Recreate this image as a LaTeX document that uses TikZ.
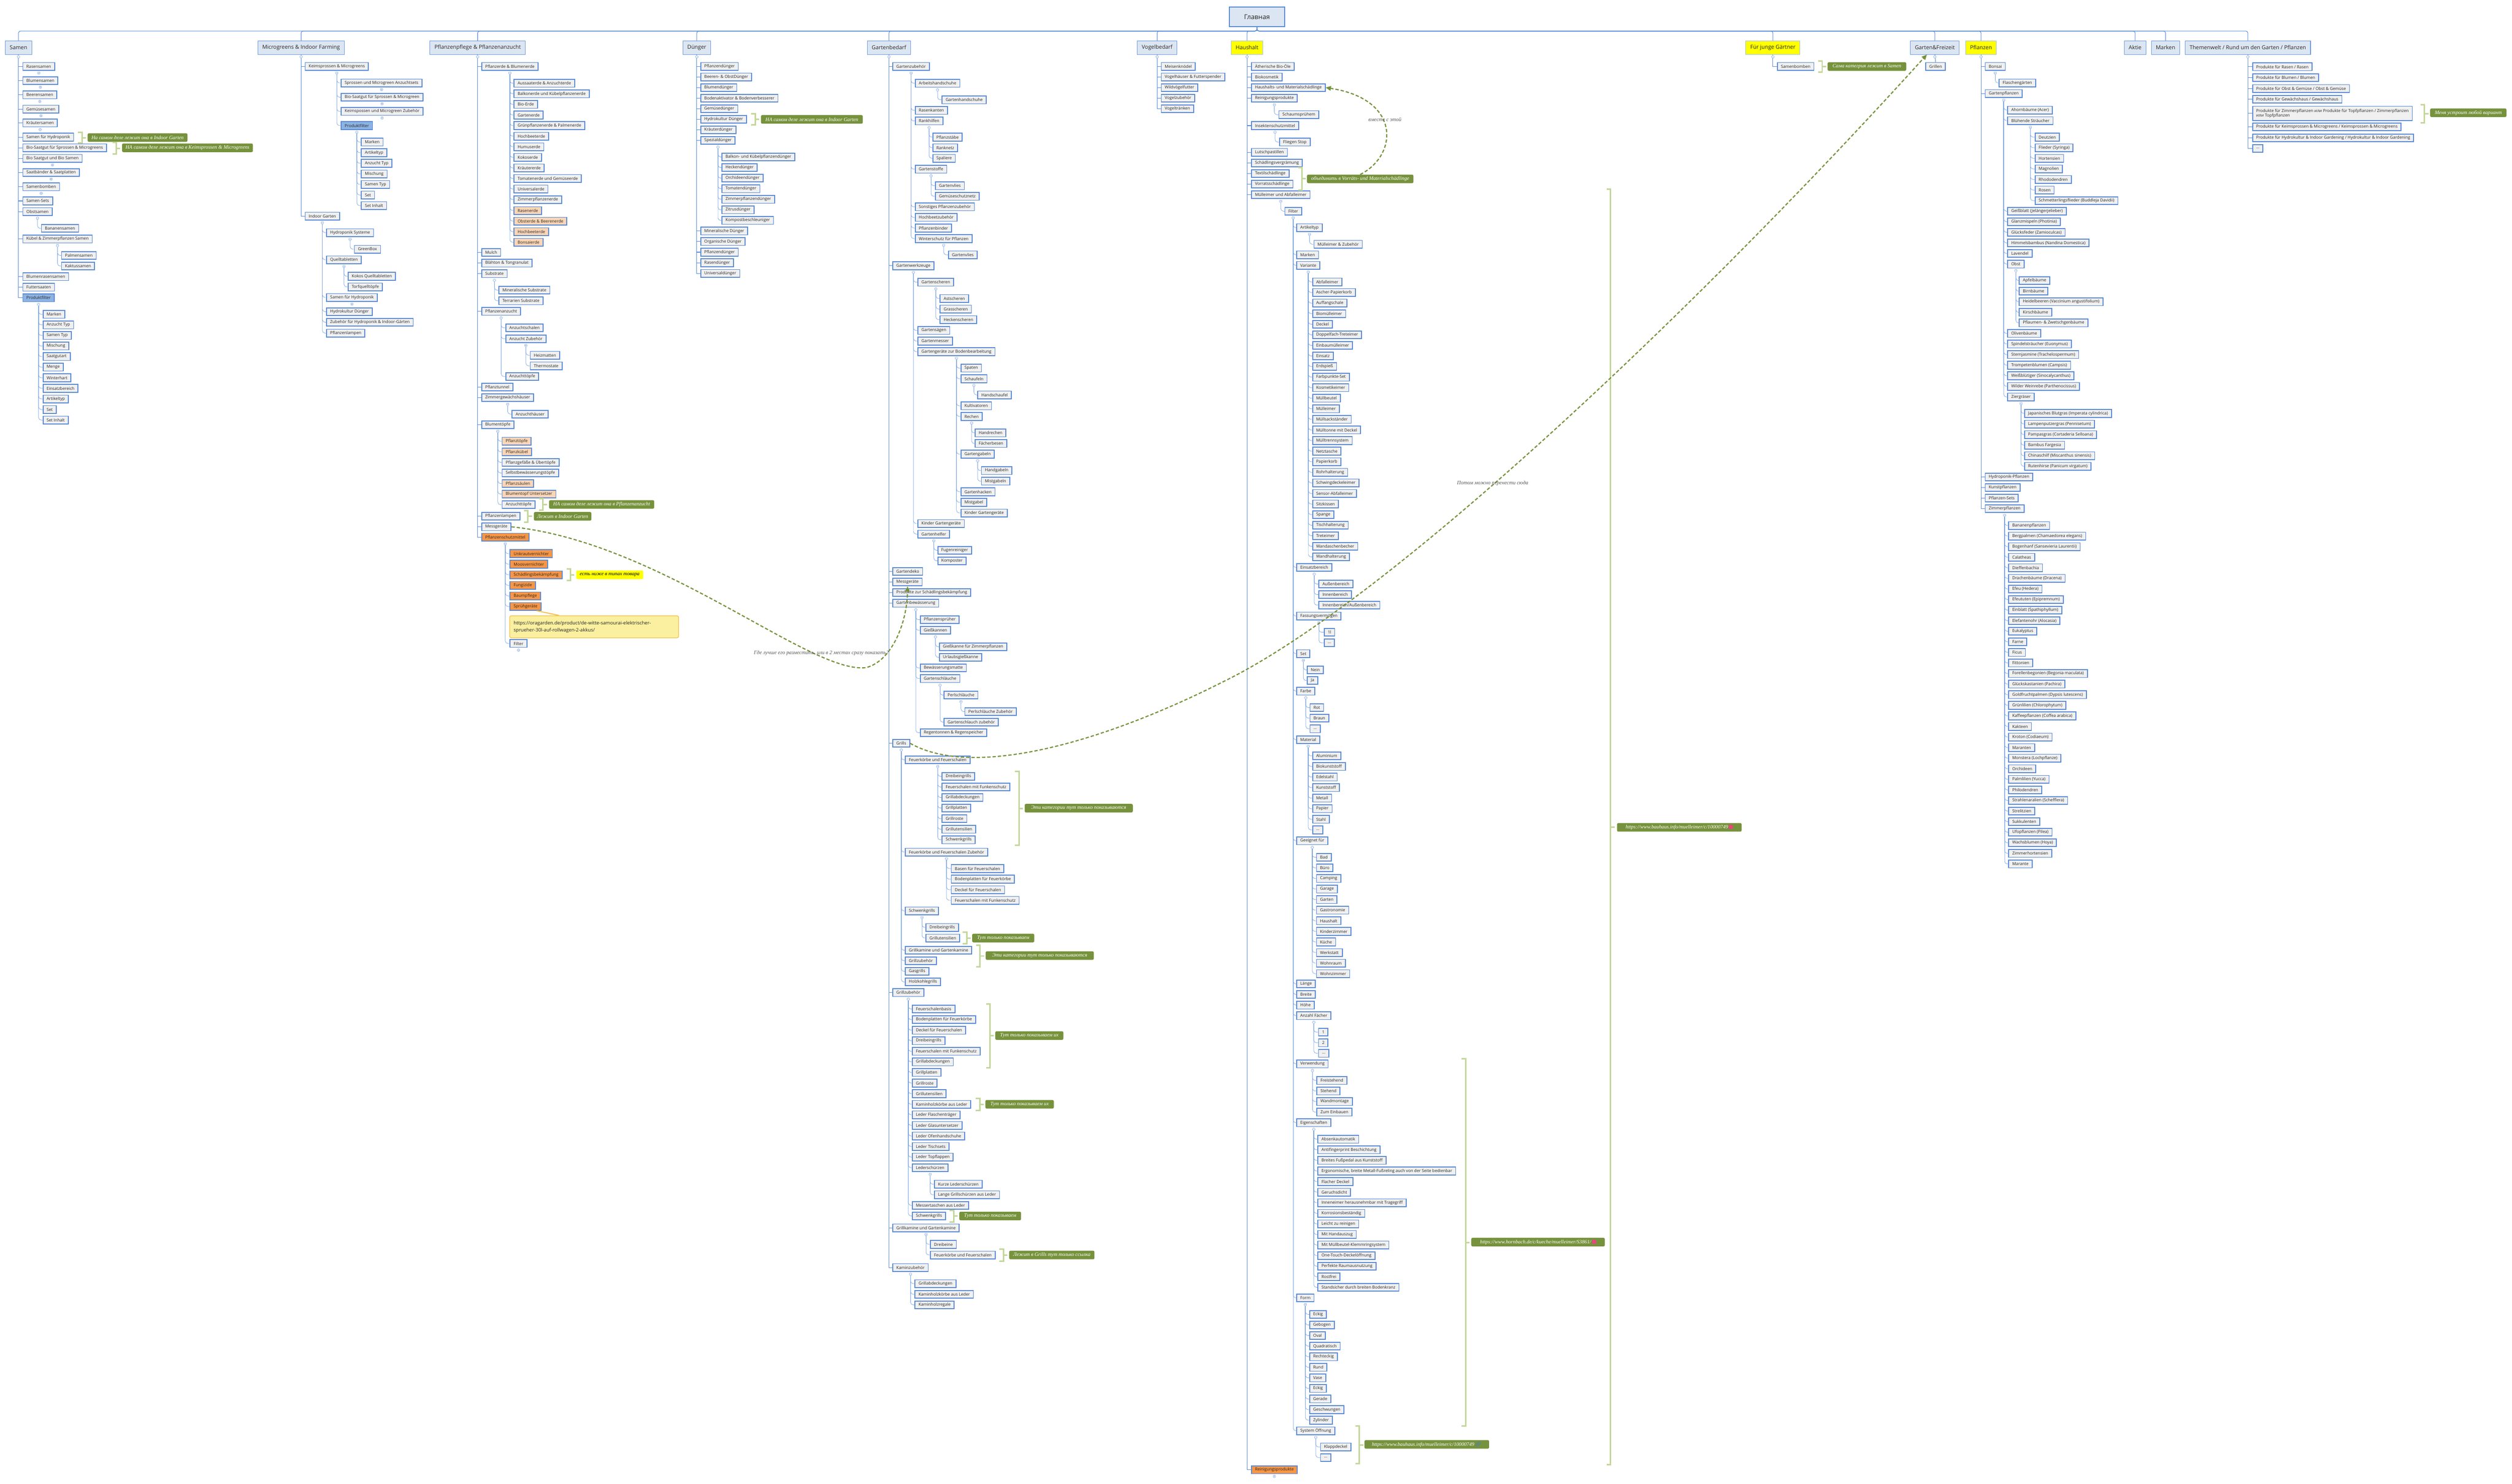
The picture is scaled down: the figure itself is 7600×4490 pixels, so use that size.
\documentclass[tikz,border=0pt]{standalone}
\usepackage{fontspec}
\setmainfont{Open Sans}
\newfontfamily\serifit{Liberation Serif}
\newfontfamily\emo{Noto Emoji}
\usetikzlibrary{arrows.meta}
\definecolor{bb}{HTML}{5A8AD6}
\definecolor{bf}{HTML}{F0F0F0}
\definecolor{txt}{HTML}{262626}
\definecolor{hf}{HTML}{DCE6F2}
\definecolor{hb}{HTML}{6E9AD8}
\definecolor{cl}{HTML}{7BA4DD}
\definecolor{pfc}{HTML}{8DB3E2}
\definecolor{lo}{HTML}{FBD5B5}
\definecolor{dor}{HTML}{F79646}
\definecolor{gn}{HTML}{76923C}
\definecolor{br}{HTML}{C4D79B}
\definecolor{yl}{HTML}{FFFF00}
\definecolor{ynote}{HTML}{FAF0A0}
\definecolor{yb}{HTML}{F5C04A}
\definecolor{gr}{HTML}{595959}
\definecolor{icr}{HTML}{E8467C}
\definecolor{icb}{HTML}{3B7DD8}
\newcommand\bxN[5][bx]{\node[#1] (#2) at (#3,#4) {#5};}
\newcommand\tN[6][bx]{\node[#1] (#3) at (#4,#5) {#6};\draw[tl] (#2.south) |- (#3.west);}
\newcommand\sN[6][bx]{\node[#1] (#3) at (#4,#5) {#6};\draw[sl] (#2.south) ++(0,11) |- (#3.west);}
\newcommand\lstS[6][bx]{\foreach \itm [count=\cnt] in {#6}{\node[#1] (#3\cnt) at (#4,{#5+32*(\cnt-1)}) {\itm};\draw[sl] (#2.south) ++(0,11) |- (#3\cnt.west);}}
\newcommand\lstT[6][bx]{\foreach \itm [count=\cnt] in {#6}{\node[#1] (#3\cnt) at (#4,{#5+32*(\cnt-1)}) {\itm};\draw[tl] (#2.south) |- (#3\cnt.west);}}
\newcommand\brc[3]{\draw[brs] (#1,#2) -- (#1+12,#2) -- (#1+12,#3) -- (#1,#3);\draw[brs] (#1+12,{(#2+#3)/2}) -- (#1+24,{(#2+#3)/2});}
\newcommand\ntG[6][note]{\node[#1,minimum width=#5pt] (#2) at (#3,#4) {#6};}
\newcommand\mkMi[1]{\draw[mk] ([yshift=-7pt]#1.south) circle[radius=4pt] +(-2.4pt,0pt) -- +(2.4pt,0pt);}
\newcommand\mkPl[1]{\draw[mk] ([yshift=-7pt]#1.south) circle[radius=4pt] +(-2.4pt,0pt) -- +(2.4pt,0pt) +(0pt,-2.4pt) -- +(0pt,2.4pt);}
\newcommand\icoR{\textcolor{icr}{\rule[-1pt]{12pt}{12pt}}}
\newcommand\icoL{{\emo\textcolor{icb}{\char"1F517}}}
\begin{document}
\begin{tikzpicture}[x=1pt,y=-1pt,
  bx/.style={draw=bb,line width=2.6pt,fill=bf,text=txt,font=\fontsize{12.5}{14}\selectfont,inner xsep=10.7pt,inner ysep=0pt,minimum height=23.4pt,anchor=north west},
  po/.style={bx,fill=lo},
  pd/.style={bx,fill=dor},
  pf/.style={bx,fill=pfc},
  hd/.style={draw=hb,line width=1.6pt,fill=hf,text=txt,font=\fontsize{16.5}{19}\selectfont,inner xsep=13.7pt,inner ysep=0pt,minimum height=40.4pt,anchor=north west},
  hy/.style={hd,fill=yl,draw=hb!60},
  rt/.style={draw=bb,line width=3pt,fill=hf,text=txt,font=\fontsize{20}{24}\selectfont,minimum width=167pt,minimum height=59pt,anchor=north west},
  tl/.style={draw=bb,line width=1.6pt},
  sl/.style={draw=cl,line width=1.1pt,rounded corners=8pt},
  mk/.style={draw=cl,fill=white,line width=0.8pt},
  note/.style={fill=gn,rounded corners=4pt,text=white,font=\serifit\itshape\fontsize{15.5}{18}\selectfont,inner xsep=6pt,inner ysep=0pt,minimum height=26pt,anchor=north west},
  ynt/.style={note,fill=yl,text=black},
  urlnote/.style={fill=ynote,draw=yb,line width=2pt,rounded corners=5pt,text=txt,font=\fontsize{14.5}{21}\selectfont,align=left,text width=487pt,inner xsep=12pt,inner ysep=6pt,minimum height=67pt,anchor=north west},
  brs/.style={draw=br,line width=4.5pt},
  dsh/.style={draw=gn,line width=3.5pt,dash pattern=on 10pt off 6pt},
  arr/.style={-{Triangle[length=16pt,width=14pt]}},
  lbl/.style={text=gr,font=\serifit\itshape\fontsize{16}{19}\selectfont}]
\fill[white] (0,0) rectangle (7600,4490);
\useasboundingbox (0,0) rectangle (7600,4490);
% root
\node[rt] (root) at (3718,20) {Главная};
% ---------------- Samen
\bxN[hd]{samen}{15}{123}{Samen}
\tN{samen}{sa1}{68}{188}{Rasensamen}
\tN{samen}{sa2}{68}{231}{Blumensamen}
\tN{samen}{sa3}{68}{274}{Beerensamen}
\tN{samen}{sa4}{68}{317}{Gemüsesamen}
\tN{samen}{sa5}{68}{359}{Kräutersamen}
\tN{samen}{sa6}{68}{402}{Samen für Hydroponik}
\tN{samen}{sa7}{68}{434}{Bio-Saatgut für Sprossen \& Microgreens}
\tN{samen}{sa8}{68}{466}{Bio Saatgut und Bio Samen}
\tN{samen}{sa9}{68}{509}{Saatbänder \& Saatplatten}
\tN{samen}{sa10}{68}{552}{Samenbomben}
\tN{samen}{sa11}{68}{595}{Samen-Sets}
\tN{samen}{sa12}{68}{627}{Obstsamen}
\sN{sa12}{sa12a}{124}{678}{Bananensamen}
\tN{samen}{sa13}{68}{710}{Kübel \& Zimmerpflanzen Samen}
\lstS{sa13}{sa13x}{185}{760}{Palmensamen,Kaktussamen}
\tN{samen}{sa14}{68}{824}{Blumenrasensamen}
\tN{samen}{sa15}{68}{856}{Futtersaaten}
\tN[pf]{samen}{sa16}{68}{888}{Produktfilter}
\lstS{sa16}{sap}{129}{938}{Marken,Anzucht Typ,Samen Typ,Mischung,Saatgutart,Menge,Winterhart,Einsatzbereich,Artikeltyp,Set,Set Inhalt}
\brc{236}{400}{433}\ntG{sn1}{265}{403}{302}{На самом деле лежит она в Indoor Garten}
\brc{340}{431}{466}\ntG{sn2}{369}{434}{396}{НА самом деле лежит она в Keimsprossen \& Microgreens}
% ---------------- Microgreens
\bxN[hd]{micro}{779}{123}{Microgreens \& Indoor Farming}
\tN{micro}{mg1}{922}{188}{Keimsprossen \& Microgreens}
\sN{mg1}{mg1a}{1031}{238}{Sprossen und Microgreen Anzuchtsets}
\sN{mg1}{mg1b}{1031}{281}{Bio-Saatgut für Sprossen \& Microgreen}
\sN{mg1}{mg1c}{1031}{324}{Keimspossen und Microgreen Zubehör}
\sN[pf]{mg1}{mg1d}{1031}{367}{Produktfilter}
\lstS{mg1d}{mgp}{1092}{417}{Marken,Artikeltyp,Anzucht Typ,Mischung,Samen Typ,Set,Set Inhalt}
\tN{micro}{mg2}{922}{641}{Indoor Garten}
\sN{mg2}{mg2a}{987}{691}{Hydroponik Systeme}
\sN{mg2a}{mg2a1}{1071}{741}{GreenBox}
\sN{mg2}{mg2b}{987}{773}{Quelltabletten}
\lstS{mg2b}{mg2bx}{1052}{823}{Kokos Quelltabletten,Torfquelltöpfe}
\sN{mg2}{mg2c}{987}{887}{Samen für Hydroponik}
\sN{mg2}{mg2d}{987}{930}{Hydrokultur Dünger}
\sN{mg2}{mg2e}{987}{962}{Zubehör für Hydroponik \& Indoor-Gärten}
\sN{mg2}{mg2f}{987}{995}{Pflanzenlampen}
% ---------------- Pflanzenpflege
\bxN[hd]{pflege}{1300}{123}{Pflanzenpflege \& Pflanzenanzucht}
\tN{pflege}{pp1}{1456}{188}{Pflanzerde \& Blumenerde}
\lstS{pp1}{ppe}{1554}{239}{Aussaaterde \& Anzuchterde,Balkonerde und Kübelpflanzenerde,Bio-Erde,Gartenerde,Grünpflanzenerde \& Palmenerde,Hochbeeterde,Humuserde,Kokoserde,Kräutererde,Tomatenerde und Gemüseerde,Universalerde,Zimmerpflanzenerde}
\lstS[po]{pp1}{ppo}{1554}{624}{Rasenerde,Obsterde \& Beerenerde,Hochbeeterde,Bonsaierde}
\tN{pflege}{pp2}{1456}{751}{Mulch}
\tN{pflege}{pp3}{1456}{783}{Blähton \& Tongranulat}
\tN{pflege}{pp4}{1456}{815}{Substrate}
\lstS{pp4}{pp4x}{1508}{865}{Mineralische Substrate,Terrarien Substrate}
\tN{pflege}{pp5}{1456}{929}{Pflanzenanzucht}
\sN{pp5}{pp5a}{1529}{979}{Anzuchtschalen}
\sN{pp5}{pp5b}{1529}{1012}{Anzucht Zubehör}
\lstS{pp5b}{pp5bx}{1603}{1062}{Heizmatten,Thermostate}
\sN{pp5}{pp5c}{1529}{1126}{Anzuchttöpfe}
\tN{pflege}{pp6}{1456}{1158}{Pflanztunnel}
\tN{pflege}{pp7}{1456}{1190}{Zimmergewächshäuser}
\sN{pp7}{pp7a}{1548}{1240}{Anzuchthäuser}
\tN{pflege}{pp8}{1456}{1272}{Blumentöpfe}
\lstS[po]{pp8}{pp8x}{1518}{1322}{Pflanztöpfe,Pflanzkübel}
\lstS{pp8}{pp8y}{1518}{1386}{Pflanzgefäße \& Übertöpfe,Selbstbewässerungstöpfe}
\lstS[po]{pp8}{pp8z}{1518}{1450}{Pflanzsäulen,Blumentopf Untersetzer}
\sN{pp8}{pp8g}{1518}{1514}{Anzuchttöpfe}
\tN{pflege}{pp9}{1456}{1549}{Pflanzenlampen}
\tN{pflege}{pp10}{1456}{1581}{Messgeräte}
\tN[pd]{pflege}{pp11}{1456}{1612}{Pflanzenschutzmittel}
\lstS[pd]{pp11}{pps}{1542}{1662}{Unkrautvernichter,Moosvernichter,Schädlingsbekämpfung,Fungizide,Baumpflege,Sprühgeräte}
\node[urlnote] (url) at (1541,1862) {https://oragarden.de/product/de-witte-samourai-elektrischer-\\sprueher-30l-auf-rollwagen-2-akkus/};
\draw[draw=yb,line width=3pt] ([xshift=-14pt]pps6.south east) -- ([xshift=150pt]url.north west);
\sN{pp11}{pp11g}{1542}{1934}{Filter}
\brc{1631}{1509}{1544}\ntG{ppn1}{1661}{1513}{318}{НА самом деле лежит она в Pflanzenanzucht}
\brc{1585}{1545}{1580}\ntG{ppn2}{1615}{1549}{174}{Лежит в Indoor Garten}
\brc{1714}{1722}{1756}\ntG[ynt]{ppn3}{1743}{1726}{203}{есть ниже в типах товара}
% ---------------- Duenger
\bxN[hd]{duenger}{2065}{123}{Dünger}
\lstT{duenger}{dua}{2119}{188}{Pflanzendünger,Beeren- \& ObstDünger,Blumendünger,Bodenaktivator \& Bodenverbesserer,Gemüsedünger,Hydrokultur Dünger,Kräuterdünger,Spezialdünger}
\lstS{dua8}{dus}{2183}{462}{Balkon- und Kübelpflanzendünger,Heckendünger,Orchideendünger,Tomatendünger,Zimmerpflanzendünger,Zitrusdünger,Kompostbeschleuniger}
\lstT{duenger}{dub}{2119}{686}{Mineralische Dünger,Organische Dünger,Pflanzendünger,Rasendünger,Universaldünger}
\brc{2273}{344}{378}\ntG{dun1}{2302}{348}{308}{НА самом деле лежит она в Indoor Garten}
% ---------------- Gartenbedarf
\bxN[hd]{garten}{2623}{123}{Gartenbedarf}
\tN{garten}{gb1}{2700}{188}{Gartenzubehör}
\sN{gb1}{gb1a}{2768}{239}{Arbeitshandschuhe}
\sN{gb1a}{gb1a1}{2849}{289}{Gartenhandschuhe}
\sN{gb1}{gb1b}{2768}{321}{Rasenkanten}
\sN{gb1}{gb1c}{2768}{353}{Rankhilfen}
\lstS{gb1c}{gb1cx}{2821}{402}{Pflanzstäbe,Ranknetz,Spaliere}
\sN{gb1}{gb1d}{2768}{499}{Gartenstoffe}
\lstS{gb1d}{gb1dx}{2829}{549}{Gartenvlies,Gemüseschutznetz}
\lstS{gb1}{gb1e}{2768}{613}{Sonstiges Pflanzenzubehör,Hochbeetzubehör,Pflanzenbinder,Winterschutz für Pflanzen}
\sN{gb1e4}{gb1h1}{2868}{758}{Gartenvlies}
\tN{garten}{gb2}{2700}{791}{Gartenwerkzeuge}
\sN{gb2}{gb2a}{2776}{841}{Gartenscheren}
\lstS{gb2a}{gb2ax}{2843}{890}{Astscheren,Grasscheren,Heckenscheren}
\lstS{gb2}{gb2b}{2776}{987}{Gartensägen,Gartenmesser,Gartengeräte zur Bodenbearbeitung}
\lstS{gb2b3}{gbw}{2906}{1101}{Spaten,Schaufeln}
\sN{gbw2}{gbw2a}{2957}{1182}{Handschaufel}
\lstS{gb2b3}{gbv}{2906}{1215}{Kultivatoren,Rechen}
\lstS{gbv2}{gbv2x}{2949}{1297}{Handrechen,Fächerbesen}
\sN{gb2b3}{gbg}{2906}{1361}{Gartengabeln}
\lstS{gbg}{gbgx}{2968}{1411}{Handgabeln,Mistgabeln}
\lstS{gb2b3}{gbh}{2906}{1475}{Gartenhacken,Mistgabel,Kinder Gartengeräte}
\sN{gb2}{gb2e}{2776}{1571}{Kinder Gartengeräte}
\sN{gb2}{gb2f}{2776}{1603}{Gartenhelfer}
\lstS{gb2f}{gb2fx}{2836}{1652}{Fugenreiniger,Komposter}
\lstT{garten}{gbm}{2700}{1716}{Gartendeko,Messgeräte,Produkte zur Schädlingsbekämpfung,Gartenbewässerung}
\sN{gbm4}{gb6a}{2783}{1862}{Pflanzensprüher}
\sN{gbm4}{gb6b}{2783}{1894}{Gießkannen}
\lstS{gb6b}{gb6bx}{2841}{1944}{Gießkanne für Zimmerpflanzen,Urlaubsgießkanne}
\sN{gbm4}{gb6c}{2783}{2008}{Bewässerungsmatte}
\sN{gbm4}{gb6d}{2783}{2040}{Gartenschläuche}
\sN{gb6d}{gb6d1}{2855}{2090}{Perlschläuche}
\sN{gb6d1}{gb6d1a}{2918}{2140}{Perlschläuche Zubehör}
\sN{gb6d}{gb6d2}{2855}{2172}{Gartenschlauch zubehör}
\sN{gbm4}{gb6e}{2783}{2204}{Regentonnen \& Regenspeicher}
\tN{garten}{gb7}{2700}{2236}{Grills}
\sN{gb7}{gb7a}{2738}{2286}{Feuerkörbe und Feuerschalen}
\lstS{gb7a}{gb7ax}{2849}{2336}{Dreibeingrills,Feuerschalen mit Funkenschutz,Grillabdeckungen,Grillplatten,Grillroste,Grillutensilien,Schwenkgrills}
\sN{gb7}{gb7b}{2738}{2565}{Feuerkörbe und Feuerschalen Zubehör}
\lstS{gb7b}{gb7bx}{2877}{2615}{Basen für Feuerschalen,Bodenplatten für Feuerkörbe,Deckel für Feuerschalen,Feuerschalen mit Funkenschutz}
\sN{gb7}{gb7c}{2738}{2743}{Schwenkgrills}
\lstS{gb7c}{gb7cx}{2800}{2793}{Dreibeingrills,Grillutensilien}
\lstS{gb7}{gb7d}{2738}{2862}{Grillkamine und Gartenkamine,Grillzubehör,Gasgrills,Holzkohlegrills}
\tN{garten}{gb8}{2700}{2990}{Grillzubehör}
\lstS{gb8}{gbz}{2759}{3040}{Feuerschalenbasis,Bodenplatten für Feuerkörbe,Deckel für Feuerschalen,Dreibeingrills,Feuerschalen mit Funkenschutz,Grillabdeckungen,Grillplatten,Grillroste,Grillutensilien,Kaminholzkörbe aus Leder,Leder Flaschenträger,Leder Glasuntersetzer,Leder Ofenhandschuhe,Leder Tischsets,Leder Topflappen,Lederschürzen}
\lstS{gbz16}{gbzl}{2826}{3570}{Kurze Lederschürzen,Lange Grillschürzen aus Leder}
\lstS{gb8}{gbzm}{2759}{3634}{Messertaschen aus Leder,Schwenkgrills}
\tN{garten}{gb9}{2700}{3702}{Grillkamine und Gartenkamine}
\lstS{gb9}{gb9x}{2814}{3752}{Dreibeine,Feuerkörbe und Feuerschalen}
\tN{garten}{gb10}{2700}{3822}{Kaminzubehör}
\lstS{gb10}{gb10x}{2767}{3871}{Grillabdeckungen,Kaminholzkörbe aus Leder,Kaminholzregale}
\brc{3071}{2334}{2558}\ntG{gn1}{3100}{2432}{327}{Эти категории тут только показываются}
\brc{2913}{2820}{2856}\ntG{gn2}{2941}{2825}{188}{Тут только показываем}
\brc{2953}{2860}{2925}\ntG{gn3}{2982}{2878}{327}{Эти категории тут только показываются}
\brc{2983}{3037}{3230}\ntG{gn4}{3011}{3120}{206}{Тут только показываем их}
\brc{2952}{3324}{3360}\ntG{gn5}{2981}{3328}{207}{Тут только показываем их}
\brc{2873}{3662}{3697}\ntG{gn6}{2902}{3666}{187}{Тут только показываем}
\brc{3024}{3780}{3816}\ntG{gn7}{3053}{3784}{258}{Лежит в Grills тут только ссылка}
% ---------------- Vogelbedarf
\bxN[hd]{vogel}{3440}{123}{Vogelbedarf}
\lstT{vogel}{vb}{3512}{188}{Meisenknödel,Vogelhäuser \& Futterspender,Wildvögelfutter,Vogelzubehör,Vogeltränken}
% ---------------- Haushalt
\bxN[hy]{haushalt}{3724}{123}{Haushalt}
\lstT{haushalt}{hh}{3785}{188}{Ätherische Bio-Öle,Biokosmetik,Haushalts- und Materialschädlinge,Reinigungsprodukte}
\sN{hh4}{hh4a}{3868}{334}{Schaumsprühem}
\tN{haushalt}{hh5}{3785}{367}{Insektenschutzmittel}
\sN{hh5}{hh5a}{3870}{417}{Fliegen Stop}
\lstT{haushalt}{hhb}{3785}{448}{Lutschpastillen,Schädlingsvergrämung,Textilschädlinge,Vorratsschädlinge,Mülleimer und Abfalleimer}
\sN{hhb5}{hf}{3886}{626}{Filter}
\sN{hf}{hfa}{3922}{676}{Artikeltyp}
\sN{hfa}{hfa1}{3974}{726}{Mülleimer \& Zubehör}
\sN{hf}{hfb}{3922}{758}{Marken}
\sN{hf}{hfc}{3922}{790}{Variante}
\lstS{hfc}{hv}{3970}{840}{Abfalleimer,Ascher-Papierkorb,Auffangschale,Biomülleimer,Deckel,Doppelfach-Treteimer,Einbaumülleimer,Einsatz,Erdspieß,Farbpunkte-Set,Kosmetikeimer,Müllbeutel,Mülleimer,Müllsackständer,Mülltonne mit Deckel,Mülltrennsystem,Netztasche,Papierkorb,Rohrhalterung,Schwingdeckeleimer,Sensor-Abfalleimer,Sitzkissen,Spange,Tischhalterung,Treteimer,Wandaschenbecher,Wandhalterung}
\sN{hf}{hfd}{3922}{1704}{Einsatzbereich}
\lstS{hfd}{hfdx}{3989}{1754}{Außenbereich,Innenbereich,Innenbereich/Außenbereich}
\sN{hf}{hfe}{3922}{1851}{Fassungsvermögen}
\lstS{hfe}{hfex}{4005}{1900}{1l,\ldots}
\sN{hf}{hff}{3922}{1965}{Set}
\lstS{hff}{hffx}{3954}{2014}{Nein,Ja}
\sN{hf}{hfg}{3922}{2078}{Farbe}
\lstS{hfg}{hfgx}{3962}{2128}{Rot,Braun,\ldots}
\sN{hf}{hfh}{3922}{2225}{Material}
\lstS{hfh}{hfhx}{3970}{2274}{Aluminium,Biokunststoff,Edelstahl,Kunststoff,Metall,Papier,Stahl,\ldots}
\sN{hf}{hfi}{3922}{2531}{Geeignet für}
\lstS{hfi}{hfix}{3982}{2581}{Bad,Büro,Camping,Garage,Garten,Gastronomie,Haushalt,Kinderzimmer,Küche,Werkstatt,Wohnraum,Wohnzimmer}
\lstS{hf}{hfj}{3922}{2964}{Länge,Breite,Höhe,Anzahl Fächer}
\lstS{hfj4}{hfjx}{3988}{3110}{1,2,\ldots}
\sN{hf}{hfn}{3922}{3206}{Verwendung}
\lstS{hfn}{hfnx}{3983}{3256}{Freistehend,Stehend,Wandmontage,Zum Einbauen}
\sN{hf}{hfo}{3922}{3384}{Eigenschaften}
\lstS{hfo}{hfox}{3986}{3434}{Absenkautomatik,Antifingerprint Beschichtung,Breites Fußpedal aus Kunststoff,{Ergonomische, breite Metall-Fußreling auch von der Seite bedienbar},Flacher Deckel,Geruchsdicht,Inneneimer herausnehmbar mit Tragegriff,Korrosionsbeständig,Leicht zu reinigen,Mit Handauszug,Mit Müllbeutel-Klemmringsystem,One-Touch-Deckelöffnung,Perfekte Raumausnutzung,Rostfrei,Standsicher durch breiten Bodenkranz}
\sN{hf}{hfp}{3922}{3914}{Form}
\lstS{hfp}{hfpx}{3961}{3964}{Eckig,Gebogen,Oval,Quadratisch,Rechteckig,Rund,Vase,Eckig,Gerade,Geschwungen,Zylinder}
\sN{hf}{hfq}{3922}{4316}{System Öffnung}
\lstS{hfq}{hfqx}{3994}{4365}{Klappdeckel,\ldots}
\tN[pd]{haushalt}{hh11}{3785}{4434}{Reinigungsprodukte}
\brc{3927}{507}{575}\ntG{hn1}{3954}{528}{322}{объединить в Vorräts- und Materialschädlinge}
\brc{4861}{572}{4432}\ntG{hl1}{4892}{2490}{377}{https://www.bauhaus.info/muelleimer/c/10000749\,\icoR}
\brc{4422}{3203}{4315}\ntG{hl2}{4451}{3745}{404}{https://www.hornbach.de/c/kueche/muelleimer/S3861/\,\icoR}
\brc{4101}{4315}{4428}\ntG{hl3}{4128}{4357}{377}{https://www.bauhaus.info/muelleimer/c/10000749\,\icoL}
% ---------------- Fuer junge Gaertner / Garten&Freizeit
\bxN[hy]{junge}{5281}{123}{Für junge Gärtner}
\tN{junge}{fj1}{5376}{188}{Samenbomben}
\brc{5501}{184}{218}\ntG{fjn}{5529}{188}{238}{Сама категрия лежит в Samen}
\bxN[hd]{gfz}{5779}{123}{Garten\&Freizeit}
\node[bx,anchor=north] (gfz1) at (5856,188) {Grillen};
\draw[tl] (gfz.south) -- (gfz1.north);
% ---------------- Pflanzen
\bxN[hy]{pflanzen}{5946}{123}{Pflanzen}
\tN{pflanzen}{pl1}{6005}{188}{Bonsai}
\sN{pl1}{pl1a}{6047}{238}{Flaschengärten}
\tN{pflanzen}{pl2}{6005}{270}{Gartenpflanzen}
\lstS{pl2}{pla}{6073}{320}{Ahornbäume (Acer),Blühende Sträucher}
\lstS{pla2}{plb}{6156}{402}{Deutzien,Flieder (Syringa),Hortensien,Magnolien,Rhododendren,Rosen,Schmetterlingsflieder (Buddleja Davidii)}
\lstS{pl2}{plc}{6073}{626}{Geißblatt (Jelängerjelieber),Glanzmispeln (Photinia),Glücksfeder (Zamioculcas),Himmelsbambus (Nandina Domestica),Lavendel,Obst}
\lstS{plc6}{pld}{6108}{836}{Apfelbäume,Birnbäume,Heidelbeeren (Vaccinium angustifolium),Kirschbäume,Pflaumen- \& Zwetschgenbäume}
\lstS{pl2}{ple}{6073}{996}{Olivenbäume,Spindelsträucher (Euonymus),Sternjasmine (Trachelospermum),Trompetenblumen (Campsis),Weißblütiger (Sinocalycanthus),Wilder Weinrebe (Parthenocissus),Ziergräser}
\lstS{ple7}{plf}{6124}{1238}{Japanisches Blutgras (Imperata cylindrica),Lampenputzergras (Pennisetum),Pampasgras (Cortaderia Selloana),Bambus Fargesia,Chinaschilf (Miscanthus sinensis),Rutenhirse (Panicum virgatum)}
\lstT{pflanzen}{plg}{6005}{1430}{Hydroponik-Pflanzen,Kunstpflanzen,Pflanzen-Sets,Zimmerpflanzen}
\lstS{plg4}{plh}{6076}{1577}{Bananenpflanzen,Bergpalmen (Chamaedorea elegans),Bogenhanf (Sansevieria Laurentii),Calatheas,Dieffenbachia,Drachenbäume (Dracena),Efeu (Hedera),Efeututen (Epipremnum),Einblatt (Spathiphyllum),Elefantenohr (Alocasia),Eukalyptus,Farne,Ficus,Fittonien,Forellenbegonien (Begonia maculata),Glückskastanien (Pachira),Goldfruchtpalmen (Dypsis lutescens),Grünlilien (Chlorophytum),Kaffeepflanzen (Coffea arabica),Kakteen,Kroton (Codiaeum),Maranten,Monstera (Lochpflanze),Orchideen,Palmlilien (Yucca),Philodendren,Strahlenaralien (Schefflera),Strelitzien,Sukkulenten,Ufopflanzen (Pilea),Wachsblumen (Hoya),Zimmerhortensien,Marante}
% ---------------- Aktie / Marken / Themenwelt
\bxN[hd]{aktie}{6426}{123}{Aktie}
\bxN[hd]{marken}{6508}{123}{Marken}
\bxN[hd]{thema}{6610}{123}{Themenwelt / Rund um den Garten / Pflanzen}
\tN{thema}{tw1}{6814}{189}{Produkte für Rasen / Rasen}
\tN{thema}{tw2}{6814}{222}{Produkte für Blumen / Blumen}
\tN{thema}{tw3}{6814}{255}{Produkte für Obst \& Gemüse / Obst \& Gemüse}
\tN{thema}{tw4}{6814}{287}{Produkte für Gewächshaus / Gewächshaus}
\tN[bx,align=left,minimum height=43.4pt]{thema}{tw5}{6814}{320}{Produkte für Zimmerpflanzen или Produkte für Topfpflanzen / Zimmerpflanzen\\или Topfpflanzen}
\tN{thema}{tw6}{6814}{371}{Produkte für Keimsprossen \& Microgreens / Keimsprossen \& Microgreens}
\tN{thema}{tw7}{6814}{404}{Produkte für Hydrokultur \& Indoor Gardening / Hydrokultur \& Indoor Gardening}
\tN{thema}{tw8}{6814}{436}{\ldots}
\brc{7323}{317}{371}\ntG{twn}{7352}{328}{231}{Меня устроит любой вариант}
% ---------------- top connectors
\foreach \h in {samen,micro,pflege,duenger,garten,vogel,haushalt,junge,gfz,pflanzen,aktie,marken,thema}{\draw[tl,rounded corners=6pt] (root.south) |- ([yshift=29pt]\h.north) -- (\h.north);}
% ---------------- markers
\foreach \n in {samen,micro,pflege,duenger,garten,vogel,haushalt,junge,gfz,pflanzen,thema,sa12,sa13,sa16,mg1,mg1d,mg2,mg2a,mg2b,pp1,pp4,pp5,pp5b,pp7,pp8,pp11,dua8,gb1,gb1a,gb1c,gb1d,gb1e4,gb2,gb2a,gb2b3,gbw2,gbv2,gbg,gb2f,gbm4,gb6b,gb6d,gb6d1,gb7,gb7a,gb7b,gb7c,gb8,gbz16,gb9,gb10,hh4,hh5,hhb5,hf,hfa,hfc,hfd,hfe,hff,hfg,hfh,hfi,hfj4,hfn,hfo,hfp,hfq,pl1,pl2,pla2,plc6,ple7,plg4}{\mkMi{\n}}
\foreach \n in {sa1,sa2,sa3,sa4,sa5,sa8,sa9,sa10,mg1a,mg1b,mg1c,mg2c,pp11g,hh11}{\mkPl{\n}}
% ---------------- dashed relations
\coordinate (c1) at (2620,2020);
\draw[dsh,arr] (pp10.east) .. controls (2000,1640) and (2450,2040) .. (c1) .. controls (2700,2000) and (2745,1880) .. (gbm2.south);
\node[lbl] (lb1) at (2485,1976) {Где лучше его разместить, или в 2 местах сразу показать?};
\draw[dsh,arr] (hn1.north) .. controls (4230,470) and (4240,300) .. (hh3.east);
\node[lbl] (lb2) at (4190,361) {вместе с этой};
\coordinate (c2) at (3700,2063);
\draw[dsh,arr] (gb7.east) .. controls (2950,2360) and (3350,2240) .. (c2) .. controls (4200,1820) and (5132,935) .. ([xshift=-24pt]gfz.south);
\node[lbl] (lb3) at (4516,1462) {Потом можно перенести сюда};
\end{tikzpicture}
\end{document}
